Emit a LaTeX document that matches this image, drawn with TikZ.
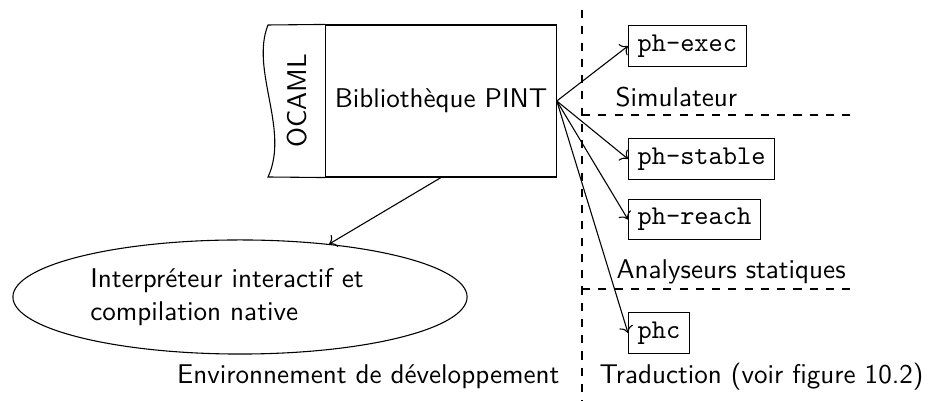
\documentclass[tikz,border=0pt]{standalone}
\usepackage{tikz}
\usetikzlibrary{positioning,arrows.meta,calc,shapes.geometric}

\begin{document}
\begin{tikzpicture}[x=0.01297cm,y=-0.01297cm,
  font=\sffamily,
  tool/.style={draw,font=\ttfamily,anchor=west},
  zone/.style={anchor=west},
  sep/.style={dashed}]
\useasboundingbox (0,0) rectangle (928,401);

% library block with the OCAML strip
\node[draw,minimum width=84.9pt,minimum height=56.1pt] (lib) at (441,101) {Bibliothèque PINT};
\draw (lib.north west) -- (268,25) .. controls (250,70) and (290,130) .. (268,177) -- (lib.south west);
\node[rotate=90] (ocaml) at (297,101) {OCAML};

% tools
\node[tool] (exec) at (628,46) {ph-exec};
\node[tool] (stable) at (628,159) {ph-stable};
\node[tool] (reach) at (628,219.5) {ph-reach};
\node[tool] (phc) at (628,333) {phc};
\foreach \t in {exec,stable,reach,phc}
  \draw[->] (lib.east) -- (\t.west);

% development side
\node[draw,ellipse,minimum width=167.6pt,minimum height=42.1pt,
  text width=110.5pt,align=left] (interp) at (240,297)
  {Interpréteur interactif et\\compilation native};
\draw[->] (lib.south) -- (interp);

% zones
\draw[sep] (582,10) -- (582,401);
\draw[sep] (582,115) -- (853,115);
\draw[sep] (582,289) -- (853,289);
\node[zone] (simu) at (606,97) {Simulateur};
\node[zone] (analyse) at (607,272) {Analyseurs statiques};
\node[zone] (trad) at (590,377) {Traduction (voir figure 10.2)};
\node[anchor=east] (dev) at (569,377) {Environnement de développement};
\end{tikzpicture}
\end{document}
